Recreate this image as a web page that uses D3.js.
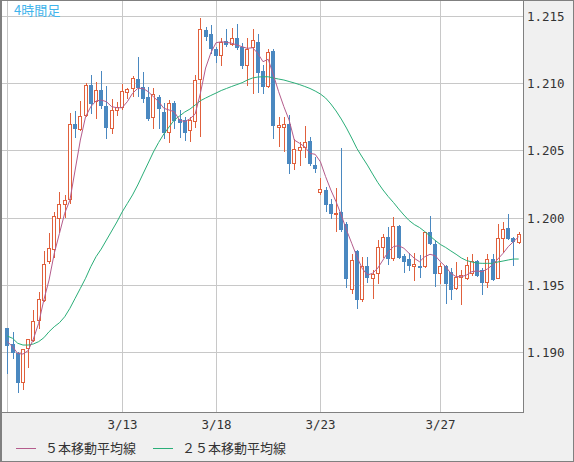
<!DOCTYPE html>
<html>
<head>
<meta charset="utf-8">
<script src="https://cdn.jsdelivr.net/npm/d3@7"></script>
<style>
  body { margin: 0; background: #f0f0f0; }
  svg { display: block; }
</style>
</head>
<body>
<svg width="574" height="462"></svg>
<script>
// 4-hour candles, oldest first
var opens = [1.19178,1.19062,1.18993,1.18782,1.19030,1.19091,1.19240,1.19389,1.19682,1.19766,
  1.19996,1.20099,1.20137,1.20696,1.20657,1.20763,1.20986,1.20867,1.20949,1.20830,
  1.20669,1.20800,1.20825,1.20932,1.20961,1.21030,1.20971,1.20897,1.20746,1.20900,
  1.20785,1.20633,1.20850,1.20733,1.20726,1.20651,1.20722,1.21028,1.21394,1.21365,
  1.21251,1.21211,1.21310,1.21290,1.21333,1.21266,1.21137,1.21266,1.21305,1.21090,
  1.20978,1.21241,1.20672,1.20676,1.20696,1.20404,1.20503,1.20527,1.20570,1.20391,
  1.20189,1.20206,1.20102,1.20031,1.20040,1.19953,1.19470,1.19755,1.19394,1.19643,
  1.19550,1.19587,1.19785,1.19854,1.19698,1.19938,1.19715,1.19693,1.19643,1.19643,
  1.19643,1.19891,1.19802,1.19591,1.19641,1.19599,1.19475,1.19562,1.19550,1.19587,
  1.19678,1.19611,1.19524,1.19693,1.19554,1.19847,1.19921,1.19847,1.19822];
var highs = [1.19183,1.19149,1.19002,1.19025,1.19099,1.19314,1.19448,1.19756,1.19884,1.20045,
  1.20193,1.20169,1.20776,1.20793,1.20867,1.20998,1.21060,1.21006,1.21092,1.20978,
  1.20880,1.20862,1.20993,1.20963,1.21055,1.21196,1.21080,1.20973,1.20961,1.20911,
  1.20850,1.20871,1.20869,1.20800,1.20748,1.20748,1.21060,1.21481,1.21419,1.21432,
  1.21270,1.21333,1.21400,1.21407,1.21439,1.21296,1.21333,1.21402,1.21365,1.21134,
  1.21253,1.21251,1.20746,1.20746,1.20763,1.20582,1.20560,1.20681,1.20602,1.20453,
  1.20297,1.20226,1.20137,1.20218,1.20516,1.19970,1.19728,1.19760,1.19710,1.19710,
  1.19611,1.19834,1.19879,1.19933,1.20003,1.19946,1.19730,1.19735,1.19735,1.19723,
  1.19896,1.20013,1.19834,1.19661,1.19649,1.19624,1.19669,1.19611,1.19710,1.19728,
  1.19686,1.19624,1.19728,1.19728,1.19951,1.19970,1.20027,1.19857,1.19891];
var lows = [1.18844,1.18960,1.18707,1.18727,1.18891,1.19084,1.19181,1.19381,1.19660,1.19710,
  1.19896,1.20007,1.20111,1.20602,1.20650,1.20755,1.20776,1.20743,1.20813,1.20594,
  1.20631,1.20763,1.20807,1.20887,1.20906,1.20906,1.20862,1.20726,1.20664,1.20664,
  1.20590,1.20562,1.20664,1.20602,1.20577,1.20573,1.20676,1.20605,1.21320,1.21226,
  1.21159,1.21134,1.21276,1.21283,1.21251,1.21110,1.20986,1.20924,1.20936,1.20924,
  1.20969,1.20592,1.20535,1.20495,1.20330,1.20360,1.20391,1.20453,1.20391,1.20342,
  1.20174,1.20052,1.20000,1.19903,1.19903,1.19483,1.19438,1.19327,1.19383,1.19524,
  1.19401,1.19517,1.19708,1.19654,1.19686,1.19698,1.19599,1.19611,1.19537,1.19562,
  1.19636,1.19802,1.19495,1.19513,1.19364,1.19396,1.19470,1.19359,1.19545,1.19574,
  1.19567,1.19431,1.19487,1.19537,1.19550,1.19747,1.19842,1.19649,1.19810];
var closes = [1.19051,1.19000,1.18782,1.19022,1.19097,1.19230,1.19394,1.19654,1.19773,1.20016,
  1.20100,1.20131,1.20694,1.20664,1.20755,1.20986,1.20854,1.20949,1.20837,1.20676,
  1.20800,1.20820,1.20941,1.20956,1.21036,1.20969,1.20893,1.20738,1.20917,1.20815,
  1.20633,1.20850,1.20729,1.20713,1.20637,1.20729,1.21023,1.21400,1.21351,1.21258,
  1.21209,1.21307,1.21288,1.21333,1.21266,1.21134,1.21255,1.21320,1.21085,1.20982,
  1.21231,1.20689,1.20689,1.20696,1.20404,1.20508,1.20523,1.20560,1.20404,1.20371,
  1.20211,1.20099,1.20033,1.20035,1.19914,1.19550,1.19686,1.19394,1.19643,1.19557,
  1.19582,1.19780,1.19854,1.19698,1.19941,1.19710,1.19681,1.19649,1.19656,1.19631,
  1.19891,1.19814,1.19591,1.19641,1.19513,1.19468,1.19562,1.19574,1.19649,1.19678,
  1.19574,1.19524,1.19693,1.19542,1.19847,1.19916,1.19847,1.19829,1.19877];

// moving averages as drawn on the chart
var ma5 = [1.19079,1.19042,1.18991,1.18987,1.19013,1.19099,1.19215,1.19389,1.19537,1.19735,
  1.19884,1.20033,1.20131,1.20354,1.20577,1.20750,1.20825,1.20867,1.20874,1.20862,
  1.20825,1.20817,1.20817,1.20862,1.20924,1.20961,1.20961,1.20936,1.20899,1.20862,
  1.20813,1.20800,1.20787,1.20726,1.20713,1.20735,1.20770,1.20924,1.21112,1.21224,
  1.21300,1.21307,1.21303,1.21296,1.21283,1.21270,1.21258,1.21263,1.21221,1.21159,
  1.21177,1.21060,1.20936,1.20825,1.20726,1.20577,1.20553,1.20527,1.20478,1.20471,
  1.20416,1.20305,1.20206,1.20119,1.20020,1.19909,1.19810,1.19710,1.19624,1.19574,
  1.19587,1.19626,1.19686,1.19747,1.19785,1.19792,1.19773,1.19735,1.19698,1.19673,
  1.19710,1.19728,1.19718,1.19673,1.19636,1.19587,1.19562,1.19562,1.19574,1.19599,
  1.19604,1.19599,1.19619,1.19649,1.19693,1.19735,1.19785,1.19822,1.19859];
var ma25 = [1.19121,1.19104,1.19067,1.19054,1.19054,1.19062,1.19079,1.19108,1.19153,1.19190,
  1.19220,1.19264,1.19327,1.19401,1.19475,1.19550,1.19636,1.19710,1.19767,1.19834,
  1.19901,1.19968,1.20042,1.20105,1.20169,1.20243,1.20325,1.20406,1.20488,1.20559,
  1.20622,1.20674,1.20726,1.20755,1.20785,1.20807,1.20837,1.20869,1.20889,1.20908,
  1.20926,1.20945,1.20960,1.20975,1.20989,1.21003,1.21023,1.21038,1.21045,1.21047,
  1.21047,1.21038,1.21030,1.21023,1.21012,1.21001,1.20989,1.20975,1.20960,1.20941,
  1.20919,1.20889,1.20845,1.20793,1.20733,1.20666,1.20592,1.20514,1.20451,1.20391,
  1.20325,1.20261,1.20206,1.20157,1.20113,1.20065,1.20020,1.19979,1.19949,1.19927,
  1.19897,1.19864,1.19831,1.19801,1.19779,1.19753,1.19728,1.19701,1.19682,1.19671,
  1.19663,1.19661,1.19661,1.19661,1.19671,1.19678,1.19686,1.19693,1.19693];

var priceTicks = [1.190, 1.195, 1.200, 1.205, 1.210, 1.215];
var dateIdx = [0, 22, 40, 60, 83];
var dateLabels = ["", "3/13", "3/18", "3/23", "3/27"];
var legendNames = ["５本移動平均線", "２５本移動平均線"];

var upColor = "#e0603c", downColor = "#4a88c0";
var ma5Color = "#b45c8c", ma25Color = "#2aae78";
var gridColor = "#c8c8c8", frameColor = "#808080";

var svg = d3.select("svg");
var plotL = 2, plotR = 523, plotT = 0, plotB = 412;

var x = d3.scaleLinear().domain([0, opens.length - 1]).range([7.3, 518.7]);
var y = d3.scaleLinear().domain([1.190, 1.215]).range([352.3, 15.8]);

function px(v) { return Math.round(v) + 0.5; }

// plot background
svg.append("rect")
    .attr("x", plotL).attr("y", plotT)
    .attr("width", plotR - plotL).attr("height", plotB - plotT)
    .attr("fill", "#fff");

// grid
var grid = svg.append("g").attr("shape-rendering", "crispEdges");
grid.selectAll(".hg").data(priceTicks).enter().append("line")
    .attr("x1", plotL).attr("x2", plotR)
    .attr("y1", function (d) { return px(y(d)); })
    .attr("y2", function (d) { return px(y(d)); })
    .attr("stroke", gridColor);
grid.selectAll(".vg").data(dateIdx).enter().append("line")
    .attr("x1", function (d) { return px(x(d)); })
    .attr("x2", function (d) { return px(x(d)); })
    .attr("y1", plotT).attr("y2", plotB)
    .attr("stroke", gridColor);

// candles
var idx = d3.range(opens.length);
var cg = svg.append("g").attr("shape-rendering", "crispEdges");
idx.forEach(function (i) {
    var up = closes[i] >= opens[i];
    var col = up ? upColor : downColor;
    var cx = Math.round(x(i));
    var top = Math.round(y(Math.max(opens[i], closes[i])));
    var bot = Math.round(y(Math.min(opens[i], closes[i])));
    cg.append("line")
        .attr("x1", cx + 0.5).attr("x2", cx + 0.5)
        .attr("y1", Math.round(y(highs[i]))).attr("y2", Math.round(y(lows[i])) + 1)
        .attr("stroke", col);
    if (up) {
        cg.append("rect")
            .attr("x", cx - 1.5).attr("y", top + 0.5)
            .attr("width", 3).attr("height", Math.max(1, bot - top))
            .attr("fill", "#fff").attr("stroke", col);
    } else {
        cg.append("rect")
            .attr("x", cx - 2).attr("y", top)
            .attr("width", 4).attr("height", Math.max(1, bot - top + 1))
            .attr("fill", col);
    }
});

// moving averages
var line = d3.line()
    .x(function (d, i) { return x(i); })
    .y(function (d) { return y(d); });
svg.append("path").datum(ma25)
    .attr("d", line).attr("fill", "none")
    .attr("stroke", ma25Color).attr("stroke-width", 1);
svg.append("path").datum(ma5)
    .attr("d", line).attr("fill", "none")
    .attr("stroke", ma5Color).attr("stroke-width", 1);

// frame
var fr = svg.append("g").attr("shape-rendering", "crispEdges");
fr.append("line").attr("x1", plotR + 0.5).attr("x2", plotR + 0.5)
    .attr("y1", 0).attr("y2", plotB + 1).attr("stroke", frameColor);
fr.append("line").attr("x1", 0).attr("x2", plotR + 1)
    .attr("y1", plotB + 0.5).attr("y2", plotB + 0.5).attr("stroke", frameColor);
fr.append("rect").attr("x", 0.5).attr("y", 0.5)
    .attr("width", 573).attr("height", 461)
    .attr("fill", "none").attr("stroke", frameColor);
fr.append("line").attr("x1", 1.5).attr("x2", 1.5)
    .attr("y1", 0).attr("y2", 462).attr("stroke", frameColor);

// price axis labels
svg.selectAll(".pl").data(priceTicks).enter().append("text")
    .attr("x", 527)
    .attr("y", function (d) { return px(y(d)); })
    .attr("dy", "0.36em")
    .attr("font-family", "DejaVu Sans Mono")
    .attr("font-size", "12.5px")
    .attr("fill", "#333")
    .text(function (d) { return d.toFixed(3); });

// date labels
svg.selectAll(".dl").data(dateIdx).enter().append("text")
    .attr("x", function (d) { return px(x(d)); })
    .attr("y", 429)
    .attr("text-anchor", "middle")
    .attr("font-family", "DejaVu Sans Mono")
    .attr("font-size", "12.5px")
    .attr("fill", "#333")
    .text(function (d, i) { return dateLabels[i]; });

// title
svg.append("text")
    .attr("x", 14).attr("y", 15)
    .attr("font-family", "Noto Sans CJK JP")
    .attr("font-size", "13px")
    .attr("fill", "#3fb4ec")
    .text("4時間足");

// legend
var legX = [16, 153], legColors = [ma5Color, ma25Color];
legendNames.forEach(function (name, i) {
    svg.append("line")
        .attr("x1", legX[i]).attr("x2", legX[i] + 20)
        .attr("y1", 448.5).attr("y2", 448.5)
        .attr("stroke", legColors[i]);
    svg.append("text")
        .attr("x", legX[i] + 29).attr("y", 453)
        .attr("font-family", "Noto Sans CJK JP")
        .attr("font-size", "13px")
        .attr("fill", "#333")
        .text(name);
});
</script>
</body>
</html>
